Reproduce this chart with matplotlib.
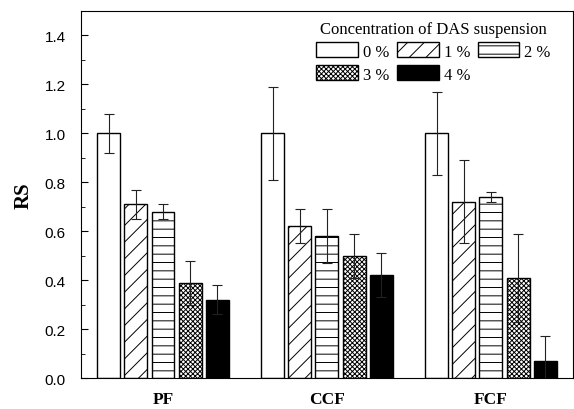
import numpy as np
import matplotlib
matplotlib.use("Agg")
import matplotlib.pyplot as plt
from matplotlib.ticker import MultipleLocator

groups = ["PF", "CCF", "FCF"]
levels = ["0 %", "1 %", "2 %", "3 %", "4 %"]

# RS values per concentration level (rows) for PF, CCF, FCF (columns)
rs_0 = [1.00, 1.00, 1.00]
rs_1 = [0.71, 0.62, 0.72]
rs_2 = [0.68, 0.58, 0.74]
rs_3 = [0.39, 0.50, 0.41]
rs_4 = [0.32, 0.42, 0.07]

err_0 = [0.08, 0.19, 0.17]
err_1 = [0.06, 0.07, 0.17]
err_2 = [0.03, 0.11, 0.02]
err_3 = [0.09, 0.09, 0.18]
err_4 = [0.06, 0.09, 0.10]

values = [rs_0, rs_1, rs_2, rs_3, rs_4]
errors = [err_0, err_1, err_2, err_3, err_4]
hatches = ["", "//", "--", "xxxxxxx", ""]
faces = ["white", "white", "white", "white", "black"]

plt.rcParams["hatch.linewidth"] = 0.7
serif = ["Liberation Serif", "DejaVu Serif"]
sans = ["Liberation Sans", "DejaVu Sans"]

fig = plt.figure(figsize=(5.74, 4.10), dpi=100)
ax = fig.add_axes([0.1411, 0.0756, 0.8571, 0.8951])

x = np.arange(len(groups))
width = 0.14
step = 0.165
bars = []
for i, (vals, errs) in enumerate(zip(values, errors)):
    pos = x + (i - 2) * step
    b = ax.bar(pos, vals, width, color=faces[i], edgecolor="black", linewidth=1.0,
               hatch=hatches[i], label=levels[i], zorder=2)
    bars.append(b)
    ax.errorbar(pos, vals, yerr=errs, fmt="none", ecolor="#222222",
                elinewidth=0.8, capsize=3.5, capthick=0.8, zorder=3)

ax.set_xlim(-0.5, 2.5)
ax.set_ylim(0, 1.5)
ax.set_xticks(x)
ax.set_xticklabels(groups, fontfamily=serif, fontweight="bold", fontsize=12.5)
ax.tick_params(axis="x", length=0, pad=9)
ax.yaxis.set_major_locator(MultipleLocator(0.2))
ax.yaxis.set_minor_locator(MultipleLocator(0.1))
ax.set_yticks(np.arange(0, 1.41, 0.2))
ax.set_yticklabels([f"{v:.1f}" for v in np.arange(0, 1.41, 0.2)],
                   fontfamily=sans, fontsize=11)
ax.tick_params(axis="y", which="major", direction="in", length=5, pad=11)
ax.tick_params(axis="y", which="minor", direction="in", length=3)
ax.set_ylabel("RS", fontfamily=serif, fontweight="bold", fontsize=15, labelpad=8)

# legend filled row by row: 0,1,2 / 3,4
order = [0, 3, 1, 4, 2]
leg = ax.legend([bars[k] for k in order], [levels[k] for k in order],
                ncol=3, frameon=False, loc="upper right",
                bbox_to_anchor=(0.985, 1.015),
                title="Concentration of DAS suspension",
                prop={"family": serif, "size": 12},
                title_fontproperties={"family": serif, "size": 12},
                handlelength=2.5, handleheight=1.0, handletextpad=0.3,
                columnspacing=0.45, labelspacing=0.35)

fig.savefig("out.png", dpi=100)
